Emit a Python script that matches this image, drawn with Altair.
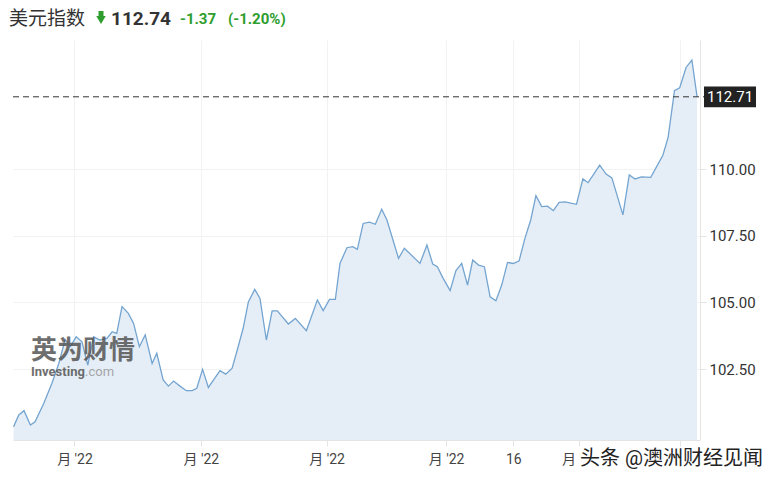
import json
import altair as alt
import pandas as pd

# ---- data (trading-day index, index value) ----
day = [0, 0.9, 1.8, 2.9, 3.7, 5.2, 6.6, 7.8, 8.9, 9.8,
       10.8, 11.8, 12.8, 13.8, 14.9, 16.1, 17.0, 17.8, 18.7, 19.8,
       20.7, 21.7, 22.7, 23.9, 24.7, 25.8, 26.7, 27.6, 28.7, 29.8,
       30.8, 31.6, 32.6, 33.6, 35.6, 36.6, 37.7, 38.5, 39.6, 40.5,
       41.6, 42.5, 43.6, 44.6, 45.5, 47.4, 48.6, 50.5, 52.4, 53.4,
       54.5, 55.5, 56.3, 57.5, 58.5, 59.3, 60.3, 61.4, 62.4, 63.5,
       64.4, 66.4, 67.4, 70.1, 71.3, 72.3, 73.1, 74.1, 75.3, 76.3,
       77.3, 78.3, 79.2, 80.2, 81.2, 82.2, 83.2, 84.2, 85.2, 86.2,
       87.2, 88.2, 89.2, 90.1, 91.1, 92.1, 93.1, 94.1, 95.1, 97.1,
       98.2, 99.1, 101.1, 102.2, 103.2, 105.1, 106.2, 107.2, 108.3, 109.9,
       112.0, 112.9, 114.0, 114.9, 116.0, 117.0, 117.9]
value = [100.34, 100.78, 100.94, 100.40, 100.52, 101.21, 101.96, 102.71, 103.61, 103.34,
         103.71, 103.52, 102.65, 103.71, 103.59, 103.65, 103.90, 103.84, 104.84, 104.59,
         104.21, 103.34, 103.78, 102.71, 103.09, 102.09, 101.86, 102.05, 101.86, 101.69,
         101.69, 101.78, 102.49, 101.81, 102.44, 102.31, 102.53, 103.15, 104.03, 105.02,
         105.49, 105.15, 103.59, 104.68, 104.68, 104.19, 104.40, 103.94, 105.09, 104.69,
         105.11, 105.11, 106.46, 107.05, 107.09, 106.99, 107.96, 108.01, 107.93, 108.49,
         108.09, 106.65, 107.03, 106.46, 107.15, 106.44, 106.34, 105.90, 105.44, 106.19,
         106.46, 105.65, 106.59, 106.40, 106.34, 105.21, 105.06, 105.65, 106.50, 106.46,
         106.56, 107.40, 108.09, 109.00, 108.59, 108.61, 108.44, 108.75, 108.77, 108.68,
         109.63, 109.49, 110.15, 109.81, 109.67, 108.28, 109.78, 109.63, 109.71, 109.69,
         110.52, 111.19, 112.94, 113.05, 113.81, 114.09, 112.71]

tick_days = [10.5, 32.3, 54.0, 74.6, 86.2, 97.6, 114.9]
tick_labels = ["月 '22", "月 '22", "月 '22", "月 '22", "16", "月 '22", ""]
y_ticks = [102.5, 105.0, 107.5, 110.0]

title_name = ["美元指数"]
last_price = ["112.74"]
change_abs = ["-1.37"]
change_pct = ["(-1.20%)"]
last_label = [112.71]
wm_cn = ["英为财情"]
wm_en1 = ["Investing"]
wm_en2 = [".com"]
wm_toutiao = ["头条 @澳洲财经见闻"]

FONT = "Roboto, 'Noto Sans CJK SC', sans-serif"
GREEN = "#2e9e2e"

df = pd.DataFrame({"day": day, "value": value})
x_scale = alt.Scale(domain=[-0.1, 118.4], nice=False, zero=False)
y_scale = alt.Scale(domain=[99.84, 114.84], nice=False, zero=False)

label_expr = "{}[indexof({}, datum.value)]".format(
    json.dumps(tick_labels, ensure_ascii=False), json.dumps(tick_days))

x_enc = alt.X("day:Q", scale=x_scale, title=None,
              axis=alt.Axis(values=tick_days, labelExpr=label_expr, grid=True,
                            gridColor="#f2f2f2", domainColor="#e4e4e4",
                            tickColor="#e4e4e4", tickSize=6, labelFontSize=14,
                            labelColor="#444", labelPadding=6, labelFont=FONT))
y_enc = alt.Y("value:Q", scale=y_scale, title=None,
              axis=alt.Axis(orient="right", values=y_ticks, format=".2f", grid=True,
                            gridColor="#f2f2f2", domainColor="#e4e4e4",
                            tickColor="#e4e4e4", tickSize=6, labelFontSize=15,
                            labelColor="#333", labelPadding=3, labelFont=FONT))

base = alt.Chart(df)
area = base.mark_area(color="#e5eef7", opacity=1, clip=True).encode(x=x_enc, y=y_enc)
line = base.mark_line(color="#74a4d0", strokeWidth=1.3, clip=True).encode(
    x=alt.X("day:Q", scale=x_scale), y=alt.Y("value:Q", scale=y_scale))

last_df = pd.DataFrame({"last": last_label, "txt": [f"{v:.2f}" for v in last_label]})
dash = alt.Chart(last_df).mark_rule(strokeDash=[6, 4], color="#333", strokeWidth=1).encode(
    y=alt.Y("last:Q", scale=y_scale), x=alt.value(0), x2=alt.value(693))
box = alt.Chart(last_df).mark_point(shape="M-1,-0.4H1V0.4H-1Z", filled=True,
                                    color="#222", opacity=1, size=2704).encode(
    y=alt.Y("last:Q", scale=y_scale), x=alt.value(717))
box_txt = alt.Chart(last_df).mark_text(color="white", fontSize=15, font=FONT,
                                       align="center", baseline="middle").encode(
    y=alt.Y("last:Q", scale=y_scale), x=alt.value(717), text="txt:N")


def txt(values, x, y, **kw):
    return alt.Chart(pd.DataFrame({"t": values})).mark_text(
        align="left", baseline="middle", font=FONT, **kw).encode(
        x=alt.value(x), y=alt.value(y), text="t:N")


hdr1 = txt(title_name, -4, -21, fontSize=19, color="#333")
arrow_stem = alt.Chart(pd.DataFrame({"t": [0]})).mark_rule(color=GREEN, strokeWidth=5).encode(
    x=alt.value(88), y=alt.value(-29), y2=alt.value(-23))
arrow_head = alt.Chart(pd.DataFrame({"t": [0]})).mark_point(
    shape="triangle-down", filled=True, color=GREEN, opacity=1, size=90).encode(
    x=alt.value(88), y=alt.value(-20))
hdr2 = txt(last_price, 98, -21.5, fontSize=19, fontWeight="bold", color="#333")
hdr3 = txt(change_abs, 167, -21, fontSize=15, fontWeight="bold", color=GREEN)
hdr4 = txt(change_pct, 215, -21, fontSize=15, fontWeight="bold", color=GREEN)

wm1 = txt(wm_cn, 18, 311, fontSize=26, fontWeight="bold", color="#555", opacity=0.85)
wm2 = txt(wm_en1, 18, 332, fontSize=13, fontWeight="bold", color="#555", opacity=0.85)
wm3 = txt(wm_en2, 72, 332, fontSize=13, color="#999", opacity=0.85)

cover = alt.Chart(pd.DataFrame({"t": [0]})).mark_rect(color="white").encode(
    x=alt.value(567), x2=alt.value(752), y=alt.value(408), y2=alt.value(432))
tt = txt(wm_toutiao, 567, 419, fontSize=20, color="#222")

chart = alt.layer(
    area, line, dash, box, box_txt, hdr1, arrow_stem, arrow_head, hdr2, hdr3, hdr4,
    wm1, wm2, wm3, cover, tt
).properties(
    width=687, height=400,
    autosize=alt.AutoSizeParams(type="none"),
    padding={"left": 5, "top": 32, "right": 62, "bottom": 36},
).configure_view(stroke=None)

chart.save("out.html", embed_options={"renderer": "svg", "actions": False})
